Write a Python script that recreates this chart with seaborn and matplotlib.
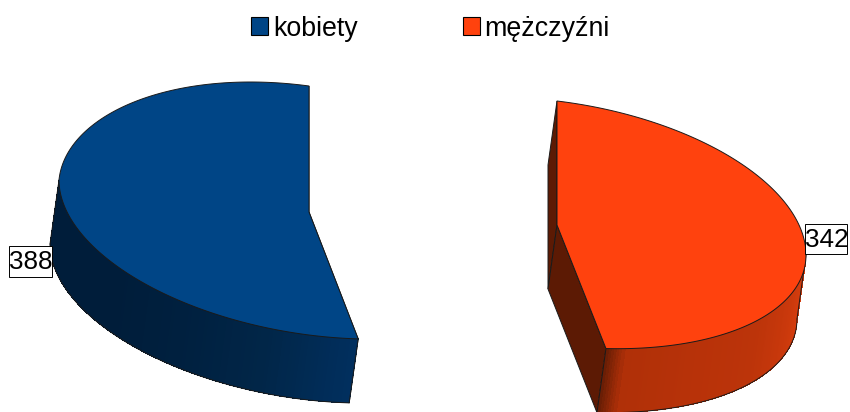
import numpy as np
import matplotlib.pyplot as plt
from matplotlib.patches import Patch, Rectangle
import seaborn as sns

sns.set_style("white")
plt.rcParams['font.family'] = ['Liberation Sans', 'DejaVu Sans']

# Data
labels = ['kobiety', 'mężczyźni']
values = [388, 342]
top_colors = ['#004586', '#ff420e']

# colour ramps along the visible side, from the cut edge backwards
side_ramps = [sns.blend_palette(['#012f5e', '#012648', '#00203f', '#001d3a', '#001d3a', '#001d3a'], 120),
              sns.blend_palette(['#6b1e05', '#b03008'], 8)
              + sns.blend_palette(['#b03008', '#b83209', '#bc340a', '#cb390c', '#dd400f'], 112)]
cut_colors = ['#001d3a', '#5c1a04']

# pie geometry in pixels: centre x, centre y, radius x, back radius y, front radius y, skew, narrowing
shapes = [(309, 212, 250, 126, 123, 32, 0.05), (557, 225, 249, 124, 120, 30, 0.0)]
depth = (-9, 64)
outline = '#1a1a1a'

fig, ax = plt.subplots(figsize=(8.5, 4.12), dpi=100)
ax.set_position([0, 0, 1, 1])
ax.set_xlim(0, 850)
ax.set_ylim(412, 0)
ax.axis('off')


def project(shape, angle, down=0):
    cx, cy, a, b_back, b_front, s, p = shape
    t = np.radians(angle)
    sin_t = np.sin(t)
    b = np.where(sin_t > 0, b_back, b_front)
    x = cx + a * np.cos(t) * (1 - p * np.maximum(sin_t, 0)) + depth[0] * down
    y = cy - b * sin_t + s * np.cos(t) + depth[1] * down
    return x, y


# both slices share the same cut, the second one runs clockwise from the top
total = sum(values)
sweep = [v / total * 360 for v in values]
angle_sets = [np.linspace(90, 90 + sweep[0], 400), np.linspace(90, 90 - sweep[1], 400)]
side_ends = [180, 0]

for i, shape in enumerate(shapes):
    angles = angle_sets[i]
    cx, cy = shape[0], shape[1]

    # cut faces
    for end in [angles[0], angles[-1]]:
        ex, ey = project(shape, end)
        bx, by = project(shape, end, 1)
        ax.fill([cx, ex, bx, cx + depth[0]], [cy, ey, by, cy + depth[1]],
                facecolor=cut_colors[i], edgecolor=outline, lw=0.7, zorder=2)

    # side strips, only the part that can be seen
    last = angles[-1]
    visible = np.linspace(last, side_ends[i], 260)
    ramp = side_ramps[i]
    for k in range(len(visible) - 1):
        pick = int(k / (len(visible) - 1) * len(ramp))
        x0, y0 = project(shape, visible[k])
        x1, y1 = project(shape, visible[k + 1])
        x2, y2 = project(shape, visible[k + 1], 1)
        x3, y3 = project(shape, visible[k], 1)
        ax.fill([x0, x1, x2, x3], [y0, y1, y2, y3], color=ramp[pick], lw=0, antialiased=False, zorder=3)

    # outline of the side
    xb, yb = project(shape, visible, 1)
    ax.plot(xb, yb, color=outline, lw=0.7, zorder=3)
    for a in [visible[0], visible[-1]]:
        ex, ey = project(shape, a)
        bx, by = project(shape, a, 1)
        ax.plot([ex, bx], [ey, by], color=outline, lw=0.7, zorder=3)

    # top face
    xt, yt = project(shape, angles)
    ax.fill(np.r_[cx, xt], np.r_[cy, yt], facecolor=top_colors[i], edgecolor=outline, lw=0.7, zorder=4)

# value labels
ax.add_patch(Rectangle((9, 246), 43, 31, facecolor='white', edgecolor='black', lw=0.7, zorder=5))
ax.text(30.5, 262, str(values[0]), fontsize=18.8, ha='center', va='center', color='black', zorder=6)
ax.add_patch(Rectangle((805.5, 224), 42, 30, facecolor='white', edgecolor='black', lw=0.7, zorder=5))
ax.text(826.5, 240, str(values[1]), fontsize=18.8, ha='center', va='center', color='black', zorder=6)

# legend
handles = [Patch(facecolor=c, edgecolor='black', lw=0.8) for c in top_colors]
fig.legend(handles, labels, loc='center', bbox_to_anchor=(430.5 / 850, 1 - 28.5 / 412), ncol=2,
           frameon=False, fontsize=19.3, handlelength=0.63, handleheight=0.63,
           handletextpad=0.18, columnspacing=3.92, labelcolor='black')

plt.savefig('out.png', dpi=100)
plt.close()
